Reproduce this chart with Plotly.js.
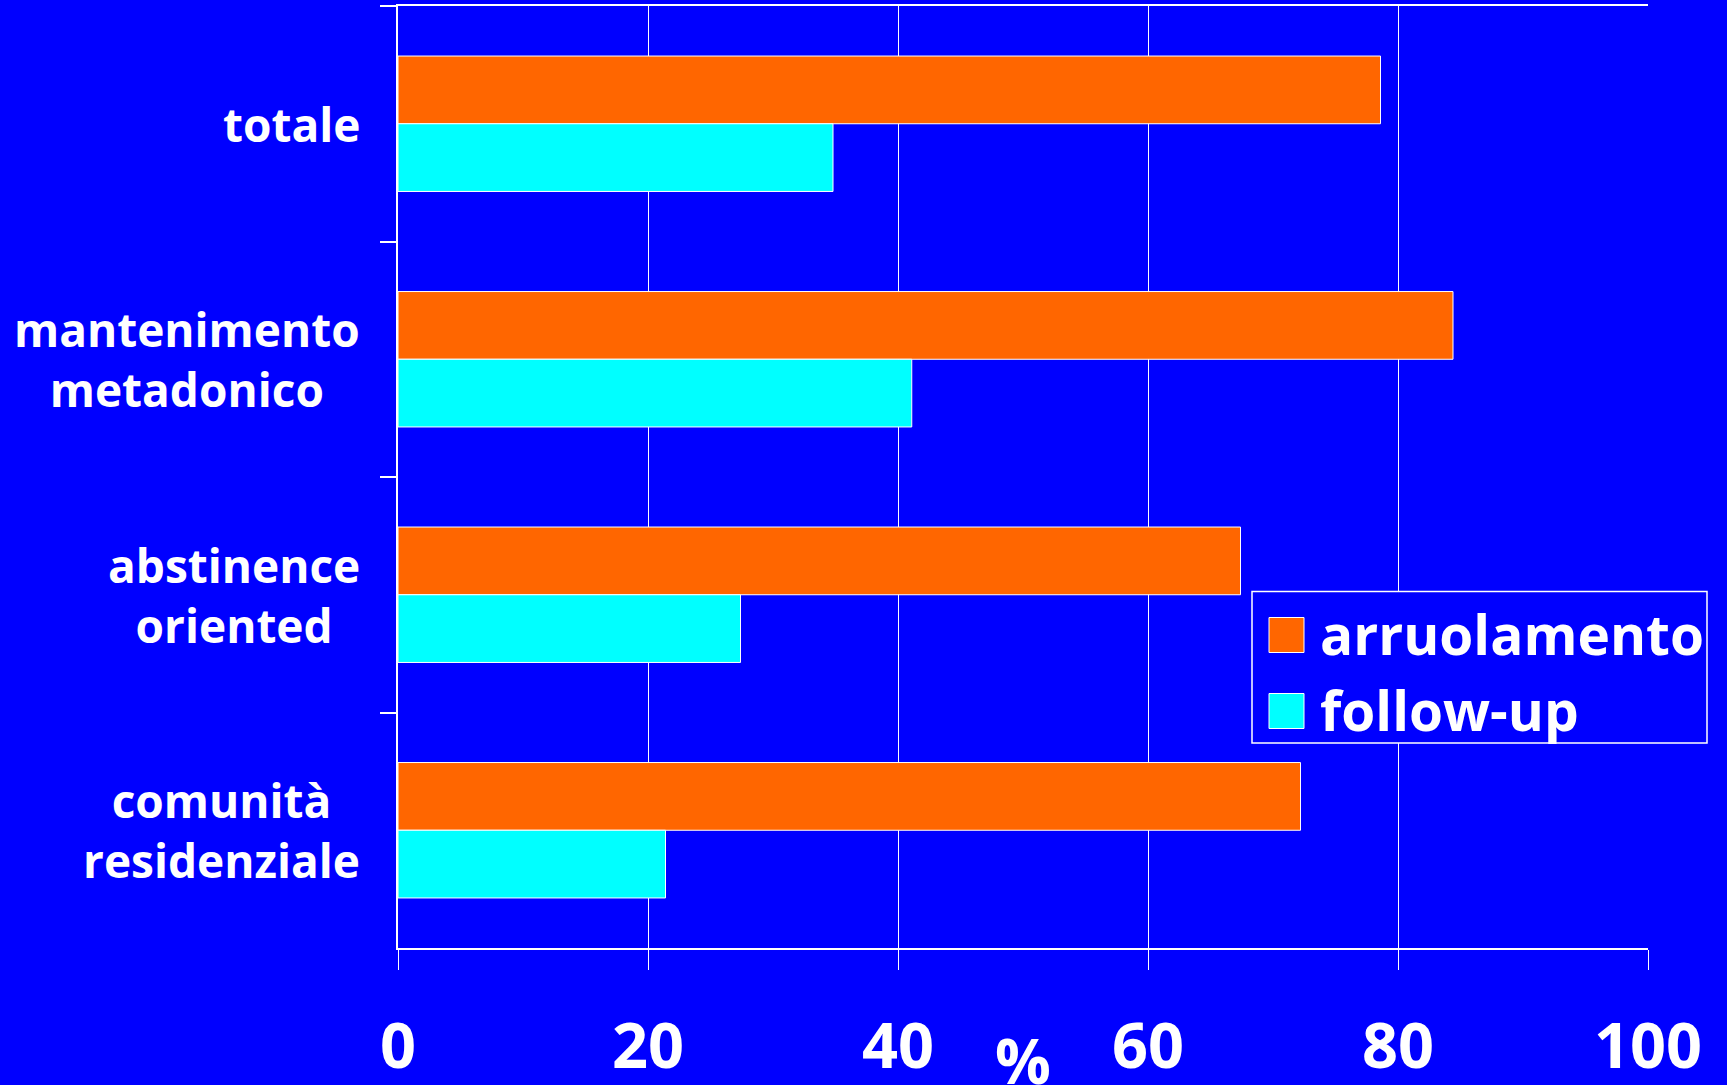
<!DOCTYPE html>
<html>
<head>
<meta charset="utf-8">
<script src="https://cdn.plot.ly/plotly-3.0.1.min.js"></script>
<style>
  html, body { margin: 0; padding: 0; background: #0000FF; }
  #chart { width: 1727px; height: 1085px; }
</style>
</head>
<body>
<div id="chart"></div>
<script>
// ---- data ----
const categories = ["totale", "mantenimento<br>metadonico", "abstinence<br>oriented", "comunità<br>residenziale"];
const seriesNames = ["arruolamento", "follow-up"];
const arruolamento = [78.6, 84.4, 67.4, 72.2];
const followUp = [34.8, 41.1, 27.4, 21.4];
const xTickValues = [0, 20, 40, 60, 80, 100];
const xTickLabels = ["0", "20", "40", "60", "80", "100"];
const xAxisTitle = "%";

// ---- styling ----
const BG = "#0000FF";
const seriesColors = ["#FF6600", "#00FFFF"];
const FONT = "Open Sans, Noto Sans, DejaVu Sans, sans-serif";

const WIDTH = 1727, HEIGHT = 1085;
const M = { l: 398, r: 79, t: 6, b: 137 };
const L = M.l, R = WIDTH - M.r, T = M.t, B = HEIGHT - M.b;
const PW = R - L, PH = B - T;
const px = x => (x - L) / PW;
const py = y => (B - y) / PH;

const seriesValues = [arruolamento, followUp];
const traces = seriesNames.map((name, i) => ({
  type: "bar",
  orientation: "h",
  name: name,
  y: categories,
  x: seriesValues[i],
  marker: { color: seriesColors[i], line: { color: "#FFFFFF", width: 1 } },
  hoverinfo: "x+name"
}));

// category labels: block right aligned, lines centred
const annotations = categories.map(c => ({
  text: c, x: 0, xref: "x", y: c, yref: "y",
  xanchor: "right", yanchor: "middle", xshift: -36, align: "center",
  showarrow: false,
  font: { family: FONT, size: 46, weight: 700, color: "#FFFFFF" }
}));

annotations.push({
  text: xAxisTitle, x: 0.5, xref: "paper", y: 0, yref: "paper",
  xanchor: "center", yanchor: "top", yshift: -68, showarrow: false,
  font: { family: FONT, size: 62, weight: 700, color: "#FFFFFF" }
});

// legend (drawn as box + swatches + labels)
const shapes = [{
  type: "rect", xref: "paper", yref: "paper",
  x0: px(1252), x1: px(1707), y0: py(743), y1: py(591.5),
  line: { color: "#FFFFFF", width: 1.5 }, fillcolor: BG, layer: "above"
}];
const rowCenters = [635, 711];
seriesNames.forEach((name, i) => {
  const cy = rowCenters[i];
  shapes.push({
    type: "rect", xref: "paper", yref: "paper",
    x0: px(1269), x1: px(1304), y0: py(cy + 17.5), y1: py(cy - 17.5),
    line: { color: "#FFFFFF", width: 1 }, fillcolor: seriesColors[i], layer: "above"
  });
  annotations.push({
    text: name, x: px(1318), xref: "paper", y: py(cy - 2), yref: "paper",
    xanchor: "left", yanchor: "middle", showarrow: false,
    font: { family: FONT, size: 55, weight: 700, color: "#FFFFFF" }
  });
});

const layout = {
  width: WIDTH, height: HEIGHT,
  margin: M,
  paper_bgcolor: BG, plot_bgcolor: BG,
  showlegend: false,
  barmode: "group", bargap: 0.425, bargroupgap: 0,
  font: { family: FONT, color: "#FFFFFF" },
  xaxis: {
    range: [0, 100], tickvals: xTickValues, ticktext: xTickLabels,
    showgrid: true, gridcolor: "#FFFFFF", gridwidth: 1, zeroline: false,
    showline: true, linecolor: "#FFFFFF", linewidth: 2, mirror: true,
    ticks: "outside", ticklen: 20, tickwidth: 1, tickcolor: "#FFFFFF",
    ticklabelstandoff: 22,
    tickfont: { family: FONT, size: 63, weight: 700, color: "#FFFFFF" },
    fixedrange: true
  },
  yaxis: {
    type: "category", categoryorder: "array", categoryarray: categories,
    autorange: "reversed",
    showticklabels: false, showgrid: false, zeroline: false,
    showline: true, linecolor: "#FFFFFF", linewidth: 2,
    ticks: "outside", tickson: "boundaries", ticklen: 16, tickwidth: 2, tickcolor: "#FFFFFF",
    fixedrange: true
  },
  annotations: annotations,
  shapes: shapes
};

Plotly.newPlot("chart", traces, layout, { displayModeBar: false, staticPlot: true });
</script>
</body>
</html>
